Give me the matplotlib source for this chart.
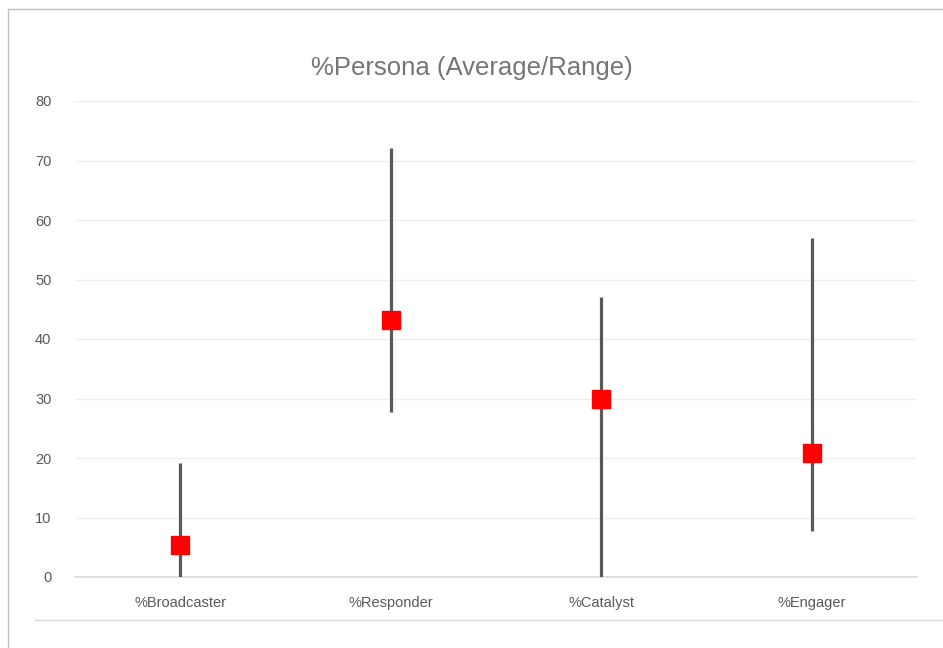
import matplotlib
matplotlib.use("Agg")
import matplotlib.pyplot as plt
from matplotlib.lines import Line2D
from matplotlib import font_manager

categories = ["%Broadcaster", "%Responder", "%Catalyst", "%Engager"]
range_low = [0.0, 27.7, 0.0, 7.7]
range_high = [19.2, 72.1, 47.1, 57.0]
average = [5.4, 43.2, 29.9, 20.8]
y_ticks = [0, 10, 20, 30, 40, 50, 60, 70, 80]

installed = {f.name for f in font_manager.fontManager.ttflist}
family = ["Liberation Sans Narrow"] if "Liberation Sans Narrow" in installed else []
plt.rcParams["font.family"] = family + ["Liberation Sans", "DejaVu Sans"]

fig = plt.figure(figsize=(9.43, 6.48), dpi=100)
ax = fig.add_axes([75 / 943, 71 / 648, 842 / 943, 476 / 648])

x = list(range(len(categories)))
ax.vlines(x, range_low, range_high, color="#595959", linewidth=2.3, zorder=3)
ax.plot(x, average, linestyle="none", marker="s", markersize=12.5,
        color="#ff0000", markeredgecolor="#ff0000", zorder=4)

ax.set_xlim(-0.5, len(categories) - 0.5)
ax.set_ylim(0, 80)
ax.set_yticks(y_ticks)
ax.set_xticks(x)
ax.set_xticklabels(categories)
ax.tick_params(axis="both", length=0, labelsize=10.5, colors="#595959")
ax.tick_params(axis="y", pad=17)
ax.tick_params(axis="x", pad=14)
ax.grid(axis="y", color="#efefef", linewidth=1)
ax.set_axisbelow(True)
for side in ("top", "right", "left"):
    ax.spines[side].set_visible(False)
ax.spines["bottom"].set_color("#d9d9d9")
ax.spines["bottom"].set_linewidth(1.2)

fig.text(0.5, 1 - 68 / 648, "%Persona (Average/Range)", ha="center", va="center",
         fontsize=18.5, color="#757575")

# chart frame edges
fig.add_artist(Line2D([8 / 943, 8 / 943], [0, 1 - 9 / 648], transform=fig.transFigure,
                      color="#bfbfbf", linewidth=1))
fig.add_artist(Line2D([8 / 943, 1], [1 - 9 / 648, 1 - 9 / 648], transform=fig.transFigure,
                      color="#bfbfbf", linewidth=1))
fig.add_artist(Line2D([35 / 943, 1], [1 - 620 / 648, 1 - 620 / 648], transform=fig.transFigure,
                      color="#d9d9d9", linewidth=1))

fig.savefig("out.png", dpi=100)
